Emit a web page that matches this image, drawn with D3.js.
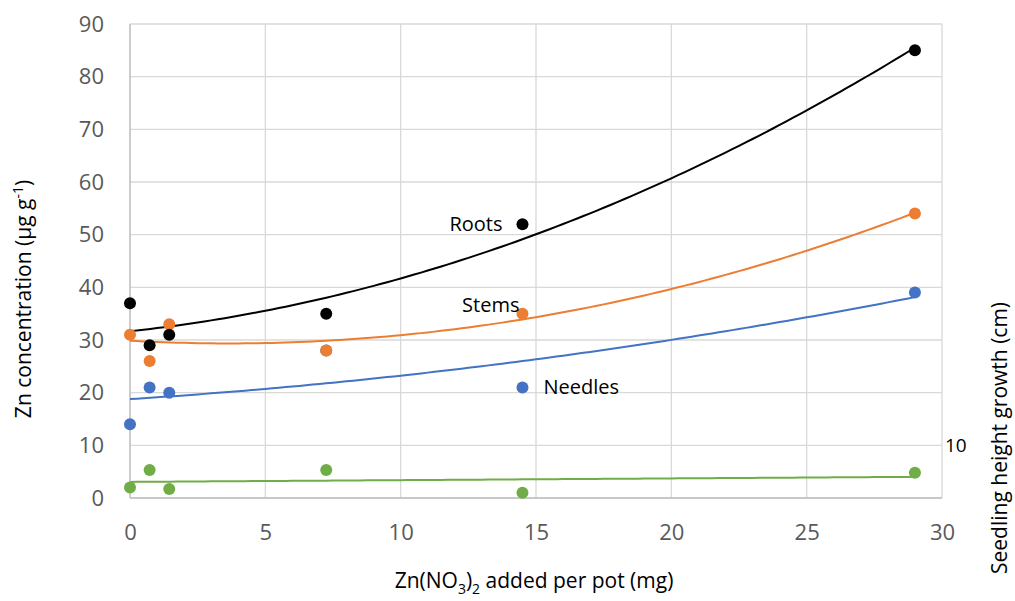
<!DOCTYPE html>
<html>
<head>
<meta charset="utf-8">
<script src="https://cdn.jsdelivr.net/npm/d3@7"></script>
<style>
  body { margin: 0; background: #fff; }
  text { font-family: "Open Sans", sans-serif; }
</style>
</head>
<body>
<div class="chart"></div>
<script>
// doses of Zn(NO3)2 per pot (mg)
const doses = [0, 0.725, 1.45, 7.25, 14.5, 29];
const roots = [37, 29, 31, 35, 52, 85];
const stems = [31, 26, 33, 28, 35, 54];
const needles = [14, 21, 20, 28, 21, 39];
const growth = [2, 5.3, 1.7, 5.3, 1, 4.8];
const xTicks = [0, 5, 10, 15, 20, 25, 30];
const yTicks = [0, 10, 20, 30, 40, 50, 60, 70, 80, 90];
const rightTicks = [10];

// drawn bottom to top, growth has a straight trendline
const series = [
  { name: "Growth", values: growth, color: "#70AD47", order: 1 },
  { name: "Needles", values: needles, color: "#4472C4", order: 2 },
  { name: "Stems", values: stems, color: "#ED7D31", order: 2 },
  { name: "Roots", values: roots, color: "#000000", order: 2 },
];
const labels = [
  { text: "Roots", x: 14.5, y: 52 },
  { text: "Stems", x: 14.5, y: 35 },
  { text: "Needles", x: 14.5, y: 21 },
];

const W = 1015, H = 601;
const margin = { top: 24, right: 73, bottom: 103, left: 130 };
const width = W - margin.left - margin.right,
  height = H - margin.top - margin.bottom;

const x = d3.scaleLinear().domain([0, 30]).range([0, width]);
const y = d3.scaleLinear().domain([0, 90]).range([height, 0]);

// least squares polynomial, like excel's trendline
function polyFit(xs, ys, order) {
  const m = order + 1;
  const A = [];
  for (let r = 0; r < m; r++) {
    A.push([]);
    for (let c = 0; c < m; c++) A[r].push(d3.sum(xs, (xv) => Math.pow(xv, r + c)));
    A[r].push(d3.sum(xs, (xv, i) => ys[i] * Math.pow(xv, r)));
  }
  for (let i = 0; i < m; i++) {
    for (let j = i + 1; j < m; j++) {
      const f = A[j][i] / A[i][i];
      for (let k = i; k <= m; k++) A[j][k] -= f * A[i][k];
    }
  }
  const coef = new Array(m).fill(0);
  for (let i = m - 1; i >= 0; i--) {
    let v = A[i][m];
    for (let k = i + 1; k < m; k++) v -= A[i][k] * coef[k];
    coef[i] = v / A[i][i];
  }
  return (xv) => d3.sum(coef, (c, k) => c * Math.pow(xv, k));
}

const svg = d3
  .select(".chart")
  .append("svg")
  .attr("width", W)
  .attr("height", H);

const g = svg
  .append("g")
  .attr("transform", `translate(${margin.left},${margin.top})`);

// grid
g.append("g")
  .selectAll("line")
  .data(yTicks)
  .enter()
  .append("line")
  .attr("x1", 0)
  .attr("x2", width)
  .attr("y1", (d) => y(d))
  .attr("y2", (d) => y(d))
  .attr("stroke", "#d9d9d9")
  .attr("stroke-width", 1.3);
g.append("g")
  .selectAll("line")
  .data(xTicks)
  .enter()
  .append("line")
  .attr("x1", (d) => x(d))
  .attr("x2", (d) => x(d))
  .attr("y1", 0)
  .attr("y2", height)
  .attr("stroke", "#d9d9d9")
  .attr("stroke-width", 1.3);
g.append("line")
  .attr("x1", 0).attr("x2", 0).attr("y1", 0).attr("y2", height)
  .attr("stroke", "#bfbfbf").attr("stroke-width", 1.3);
g.append("line")
  .attr("x1", 0).attr("x2", width).attr("y1", height).attr("y2", height)
  .attr("stroke", "#bfbfbf").attr("stroke-width", 1.3);

const xAxis = (sel) =>
  sel
    .call(d3.axisBottom(x).tickValues(xTicks).tickSize(0).tickPadding(26))
    .call((s) => s.select(".domain").remove())
    .call((s) =>
      s.selectAll("text")
        .attr("font-size", 22)
        .attr("font-family", "Open Sans")
        .attr("fill", "#595959")
    );
const yAxis = (sel) =>
  sel
    .call(d3.axisLeft(y).tickValues(yTicks).tickSize(0).tickPadding(26))
    .call((s) => s.select(".domain").remove())
    .call((s) =>
      s.selectAll("text")
        .attr("font-size", 22)
        .attr("font-family", "Open Sans")
        .attr("fill", "#595959")
    );
const rAxis = (sel) =>
  sel
    .call(d3.axisRight(y).tickValues(rightTicks).tickSize(0).tickPadding(3))
    .call((s) => s.select(".domain").remove())
    .call((s) =>
      s.selectAll("text")
        .attr("font-size", 19)
        .attr("font-family", "Open Sans")
        .attr("fill", "#000")
    );

g.append("g").attr("transform", `translate(0,${height})`).call(xAxis);
g.append("g").call(yAxis);
g.append("g").attr("transform", `translate(${width},0)`).call(rAxis);

// trendlines + points
const line = d3.line().x((d) => x(d[0])).y((d) => y(d[1]));
series.forEach((s) => {
  const f = polyFit(doses, s.values, s.order);
  const pts = d3.range(0, 29.01, 0.25).map((xv) => [xv, f(xv)]);
  g.append("path")
    .datum(pts)
    .attr("d", line)
    .attr("fill", "none")
    .attr("stroke", s.color)
    .attr("stroke-width", 2);
});
series.forEach((s) => {
  g.append("g")
    .selectAll("circle")
    .data(s.values)
    .enter()
    .append("circle")
    .attr("cx", (d, i) => x(doses[i]))
    .attr("cy", (d) => y(d))
    .attr("r", 6)
    .attr("fill", s.color);
});

// series labels near the 14.5 mg points
g.selectAll(".lbl")
  .data(labels)
  .enter()
  .append("text")
  .attr("class", "lbl")
  .attr("x", (d) => x(d.x) + (d.text === "Needles" ? 21 : d.text === "Stems" ? -3 : -20))
  .attr("y", (d) => y(d.y) + (d.text === "Stems" ? -2 : 7))
  .attr("text-anchor", (d) => (d.text === "Needles" ? "start" : "end"))
  .attr("font-size", 20)
  .attr("fill", "#000")
  .text((d) => d.text);

// axis titles
const xt = svg.append("text")
  .attr("x", 534)
  .attr("y", 588)
  .attr("text-anchor", "middle")
  .attr("font-size", 21)
  .attr("fill", "#000");
xt.append("tspan").text("Zn(NO");
xt.append("tspan").attr("font-size", 14).attr("dy", 6).text("3");
xt.append("tspan").attr("dy", -6).text(")");
xt.append("tspan").attr("font-size", 14).attr("dy", 6).text("2");
xt.append("tspan").attr("dy", -6).text(" added per pot (mg)");

const yt = svg.append("text")
  .attr("transform", "translate(31,299) rotate(-90)")
  .attr("text-anchor", "middle")
  .attr("font-size", 21)
  .attr("fill", "#000");
yt.append("tspan").text("Zn concentration (μg g");
yt.append("tspan").attr("font-size", 14).attr("dy", -8).text("-1");
yt.append("tspan").attr("dy", 8).text(")");

svg.append("text")
  .attr("transform", "translate(1007,438) rotate(-90)")
  .attr("text-anchor", "middle")
  .attr("font-size", 21)
  .attr("fill", "#000")
  .text("Seedling height growth (cm)");
</script>
</body>
</html>
